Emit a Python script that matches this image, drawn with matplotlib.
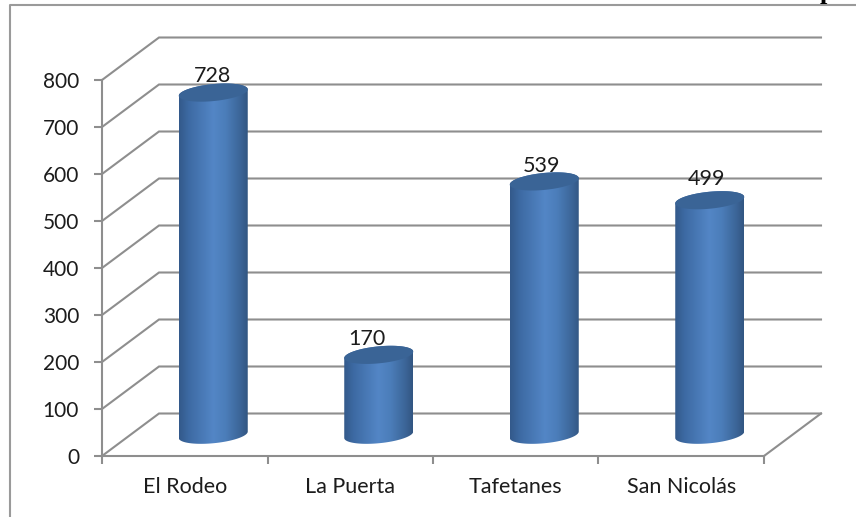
import numpy as np
import matplotlib
matplotlib.use('Agg')
import matplotlib.pyplot as plt
from matplotlib.colors import LinearSegmentedColormap
from matplotlib.lines import Line2D
from matplotlib.patches import Polygon

categories = ['El Rodeo', 'La Puerta', 'Tafetanes', 'San Nicolás']
values = [728, 170, 539, 499]
y_ticks = [0, 100, 200, 300, 400, 500, 600, 700, 800]

GRID = '#8e8e8e'
W, H = 856, 517

plt.rcParams['font.family'] = ['Lato', 'DejaVu Sans']

fig = plt.figure(figsize=(W / 100, H / 100), dpi=100)
ax = fig.add_axes([102 / W, (H - 456) / H, 662 / W, 376 / H])
ax.set_xlim(0, 4)
ax.set_ylim(0, 800)

# one pixel in data units
px = 4 / 662
py = 800 / 376
depth_x = 57 * px
depth_y = 42.5 * py

# back wall and floor
for v in y_ticks:
    ax.plot([0, depth_x, 4 + depth_x], [v, v + depth_y, v + depth_y],
            color=GRID, lw=1.5, clip_on=False, zorder=1, solid_joinstyle='miter')
ax.plot([4, 4 + depth_x], [0, depth_y], color=GRID, lw=1.5, clip_on=False, zorder=1)

cmap = LinearSegmentedColormap.from_list('cyl', [
    (0.0, '#33598a'), (0.14, '#3d6aa3'), (0.5, '#5386c6'),
    (0.68, '#4b7db9'), (0.9, '#3b6496'), (1.0, '#325681')])
grad = np.linspace(0, 1, 256).reshape(1, -1)

half_w = 34.5 * px
half_h = 8.5 * py
tilt = 3.2 * py
t = np.linspace(0, 2 * np.pi, 181)


def rim(cx, cy, a):
    return cx + half_w * np.cos(a), cy + half_h * np.sin(a) + tilt * np.cos(a)


label_dx = [-1, -12, -3, -3]
label_dy = [7, 5.5, 5.5, 11.5]
for i, v in enumerate(values):
    cx = i + 0.5 + depth_x / 2
    base = depth_y / 2
    top = v + depth_y / 2

    # body: upper rim right to left, then the lower half of the base
    a1 = np.linspace(0, np.pi, 91)
    a2 = np.linspace(np.pi, 2 * np.pi, 91)
    tx, ty = rim(cx, top, a1)
    bx, by = rim(cx, base, a2)
    body = Polygon(np.column_stack([np.r_[tx, bx], np.r_[ty, by]]),
                   closed=True, transform=ax.transData, fc='none', ec='none')
    ax.add_patch(body)
    im = ax.imshow(grad, extent=[cx - half_w, cx + half_w, 0, top + half_h + tilt],
                   cmap=cmap, aspect='auto', zorder=3, interpolation='bilinear')
    im.set_clip_path(body)

    ex, ey = rim(cx, top, t)
    ax.fill(ex, ey, color='#3a6496', zorder=4, clip_on=False, lw=0)

    ax.text(cx + label_dx[i] * px, top + label_dy[i] * py, str(v), ha='center', va='bottom',
            fontsize=15.5, color='#1c1c1c', zorder=5, clip_on=False)

ax.set_xlim(0, 4)
ax.set_ylim(0, 800)

for s in ['top', 'right']:
    ax.spines[s].set_visible(False)
for s in ['left', 'bottom']:
    ax.spines[s].set_color(GRID)
    ax.spines[s].set_linewidth(1.5)

ax.set_yticks(y_ticks)
ax.set_xticks(np.arange(5))
ax.set_xticklabels([])
ax.set_xticks(np.arange(len(categories)) + 0.5, minor=True)
ax.set_xticklabels(categories, minor=True)
ax.tick_params(axis='x', which='minor', length=0, pad=15, labelsize=15.5, labelcolor='#1c1c1c')
ax.tick_params(axis='x', which='major', length=6, width=1.5, color=GRID)
ax.tick_params(axis='y', length=6, width=1.5, color=GRID, pad=10.5, labelsize=15, labelcolor='#1c1c1c')

# outer chart frame
fig.add_artist(Line2D([10 / W, 10 / W, 1], [0, 1 - 4.5 / H, 1 - 4.5 / H],
                      color='#9a9a9a', lw=1.5))

# cut off title above the frame
fig.text(827 / W, 1 + 1 / H, 'p', family='Liberation Serif', fontweight='bold',
         fontsize=19, color='black', ha='center', va='baseline')

fig.savefig('out.png', dpi=100)
